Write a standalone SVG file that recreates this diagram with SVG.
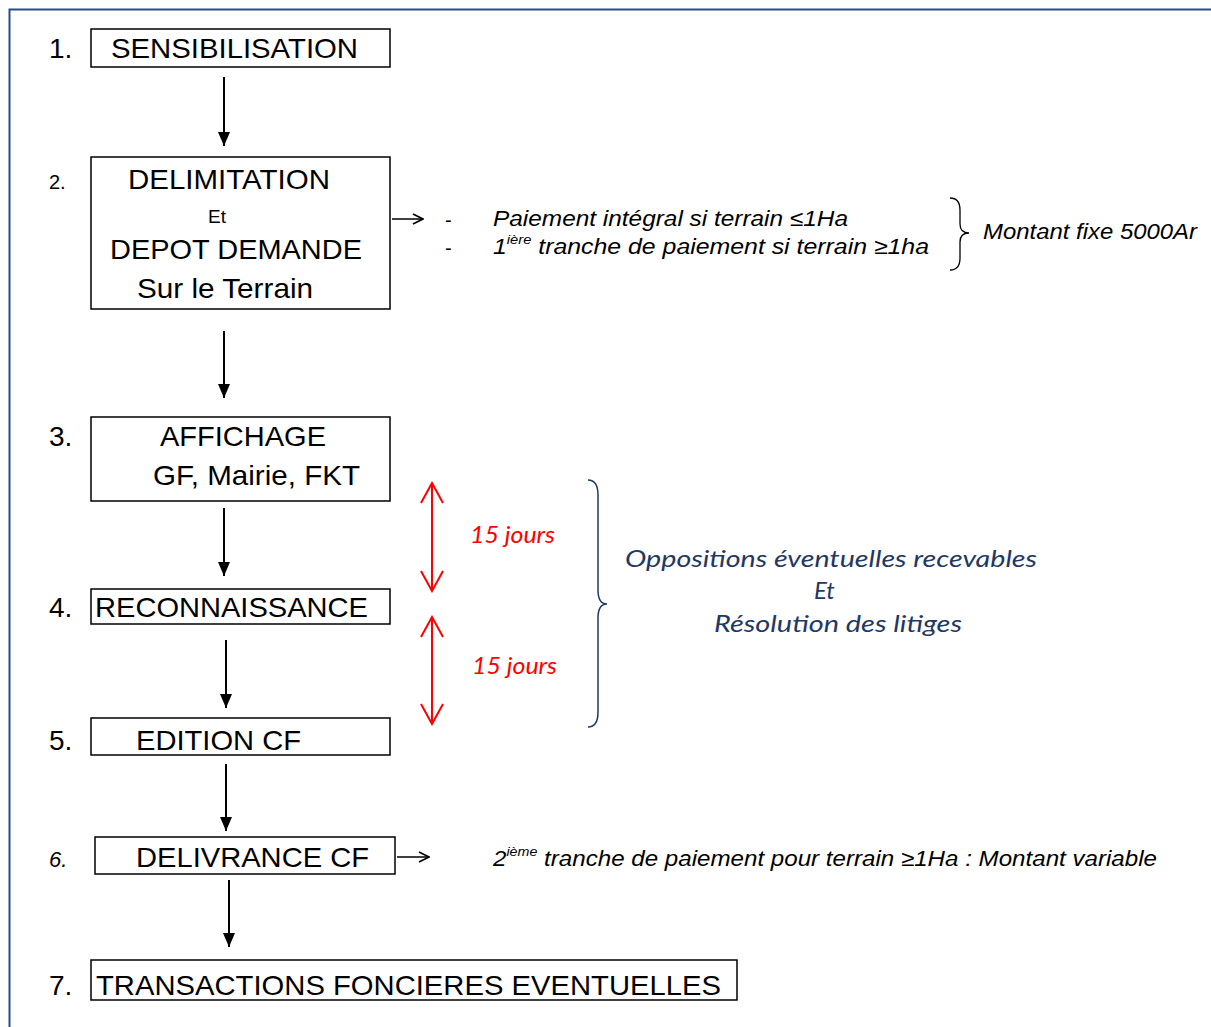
<svg xmlns="http://www.w3.org/2000/svg" width="1211" height="1027" viewBox="0 0 1211 1027">
<style>
.box{fill:#fff;stroke:#000;stroke-width:1.5}
.t{font-family:"Liberation Sans",Arial,sans-serif;fill:#000}
.big{font-size:28px}
.it{font-family:"Liberation Sans",Arial,sans-serif;font-style:italic;font-size:22px;fill:#000}
.cal{font-family:Lato,"Open Sans",sans-serif;font-style:italic}
.conn{stroke:#000;stroke-width:2;fill:none}
.red{stroke:#f00;stroke-width:2;fill:none}
</style>
<defs>
<marker id="ah" viewBox="0 0 12 14" refX="6" refY="14" markerWidth="12" markerHeight="14" orient="0" markerUnits="userSpaceOnUse"><path d="M0,0 L12,0 L6,14 Z" fill="#000"/></marker>
<marker id="oh" viewBox="0 0 12 12" refX="11" refY="6" markerWidth="12" markerHeight="12" orient="auto" markerUnits="userSpaceOnUse"><path d="M1,1 L11,6 L1,11" fill="none" stroke="#000" stroke-width="1.6"/></marker>
<marker id="rh" viewBox="0 0 24 24" refX="22" refY="12" markerWidth="24" markerHeight="24" orient="auto-start-reverse" markerUnits="userSpaceOnUse"><path d="M2,1 L22,12 L2,23" fill="none" stroke="#f00" stroke-width="2"/></marker>
</defs>
<rect width="1211" height="1027" fill="#fff"/>
<path d="M9.5,1030 L9.5,9.5 L1215,9.5" fill="none" stroke="#2b4a8a" stroke-width="2"/>

<g id="connectors">
<line class="conn" x1="224" y1="77" x2="224" y2="146" marker-end="url(#ah)"/>
<line class="conn" x1="224" y1="331" x2="224" y2="398" marker-end="url(#ah)"/>
<line class="conn" x1="224" y1="508" x2="224" y2="576" marker-end="url(#ah)"/>
<line class="conn" x1="226" y1="640" x2="226" y2="708" marker-end="url(#ah)"/>
<line class="conn" x1="226" y1="764" x2="226" y2="831" marker-end="url(#ah)"/>
<line class="conn" x1="229" y1="880" x2="229" y2="947" marker-end="url(#ah)"/>
<line x1="392" y1="219" x2="423" y2="219" stroke="#000" stroke-width="1.5" marker-end="url(#oh)"/>
<line x1="397" y1="857" x2="429" y2="857" stroke="#000" stroke-width="1.5" marker-end="url(#oh)"/>
<line class="red" x1="432" y1="483" x2="432" y2="591" marker-start="url(#rh)" marker-end="url(#rh)"/>
<line class="red" x1="432" y1="617" x2="432" y2="724" marker-start="url(#rh)" marker-end="url(#rh)"/>
</g>

<g id="n1">
<text class="t big" x="49" y="58">1.</text>
<rect class="box" x="91" y="29" width="299" height="38"/>
<text class="t big" x="111" y="58" textLength="247" lengthAdjust="spacingAndGlyphs">SENSIBILISATION</text>
</g>
<g id="n2">
<text class="t" x="49" y="189" font-size="20">2.</text>
<rect class="box" x="91" y="157" width="299" height="152"/>
<text class="t big" x="128" y="189" textLength="202" lengthAdjust="spacingAndGlyphs">DELIMITATION</text>
<text class="t" x="208" y="223" font-size="19">Et</text>
<text class="t big" x="110" y="259" textLength="252" lengthAdjust="spacingAndGlyphs">DEPOT DEMANDE</text>
<text class="t big" x="137" y="298" textLength="176" lengthAdjust="spacingAndGlyphs">Sur le Terrain</text>
</g>
<g id="n3">
<text class="t big" x="49" y="446">3.</text>
<rect class="box" x="91" y="417" width="299" height="84"/>
<text class="t big" x="160" y="446" textLength="166" lengthAdjust="spacingAndGlyphs">AFFICHAGE</text>
<text class="t big" x="153" y="485" textLength="207" lengthAdjust="spacingAndGlyphs">GF, Mairie, FKT</text>
</g>
<g id="n4">
<text class="t big" x="49" y="617">4.</text>
<rect class="box" x="91" y="589" width="299" height="35"/>
<text class="t big" x="95" y="617" textLength="273" lengthAdjust="spacingAndGlyphs">RECONNAISSANCE</text>
</g>
<g id="n5">
<text class="t big" x="49" y="750">5.</text>
<rect class="box" x="91" y="718" width="299" height="37"/>
<text class="t big" x="136" y="750" textLength="165" lengthAdjust="spacingAndGlyphs">EDITION CF</text>
</g>
<g id="n6">
<text class="t" x="49" y="867" font-size="22" font-style="italic">6.</text>
<rect class="box" x="95" y="837" width="300" height="37"/>
<text class="t big" x="136" y="867" textLength="233" lengthAdjust="spacingAndGlyphs">DELIVRANCE CF</text>
</g>
<g id="n7">
<text class="t big" x="49" y="995">7.</text>
<rect class="box" x="91" y="960" width="646" height="40"/>
<text class="t big" x="96" y="995" textLength="625" lengthAdjust="spacingAndGlyphs">TRANSACTIONS FONCIERES EVENTUELLES</text>
</g>

<g id="paiement">
<text class="t" x="445" y="227" font-size="20">-</text>
<text class="t" x="445" y="255" font-size="20">-</text>
<text class="it" x="493" y="226" textLength="355" lengthAdjust="spacingAndGlyphs">Paiement  intégral si terrain ≤1Ha</text>
<text class="it" x="493" y="254" textLength="436" lengthAdjust="spacingAndGlyphs">1<tspan font-size="13" dy="-10">ière</tspan><tspan dy="10"> tranche de paiement  si  terrain ≥1ha</tspan></text>
<path d="M950,198 Q960,198 960,210 L960,224 Q960,233 969,233 Q960,233 960,242 L960,258 Q960,270 950,270" fill="none" stroke="#000" stroke-width="1.3"/>
<text class="it" x="983" y="239" textLength="214" lengthAdjust="spacingAndGlyphs">Montant fixe 5000Ar</text>
</g>

<g id="delais">
<text class="cal" x="470" y="543" font-size="24" fill="#f00" textLength="85" lengthAdjust="spacingAndGlyphs">15 jours</text>
<text class="cal" x="472" y="674" font-size="24" fill="#f00" textLength="85" lengthAdjust="spacingAndGlyphs">15 jours</text>
</g>

<g id="oppositions">
<path d="M588,480 Q598,480 598,495 L598,590 Q598,604 607,604 Q598,604 598,618 L598,712 Q598,727 588,727" fill="none" stroke="#1f3864" stroke-width="1.5"/>
<text class="cal" x="625" y="567" font-size="24" fill="#1f3864" textLength="412" lengthAdjust="spacingAndGlyphs">Oppositions éventuelles recevables</text>
<text class="cal" x="814" y="599" font-size="24" fill="#1f3864">Et</text>
<text class="cal" x="714" y="632" font-size="24" fill="#1f3864" textLength="248" lengthAdjust="spacingAndGlyphs">Résolution des litiges</text>
</g>

<g id="paiement2">
<text class="it" x="493" y="866" textLength="664" lengthAdjust="spacingAndGlyphs">2<tspan font-size="13" dy="-10">ième</tspan><tspan dy="10"> tranche de paiement pour terrain ≥1Ha : Montant variable</tspan></text>
</g>
</svg>
